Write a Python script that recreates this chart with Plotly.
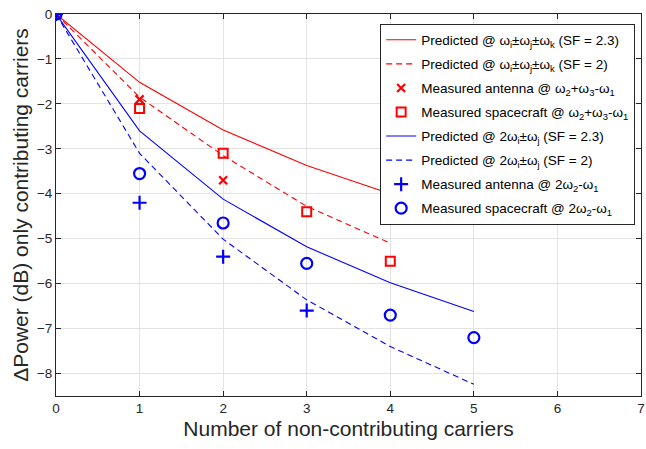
import plotly.graph_objects as go

# Data
x_pred_rk = [0, 1, 2, 3, 4]
pred_ijk_sf23 = [0, -1.52, -2.58, -3.37, -4.0]
pred_ijk_sf2 = [0, -1.85, -3.15, -4.28, -5.1]

x_pred_b = [0, 1, 2, 3, 4, 5]
pred_2ij_sf23 = [0, -2.6, -4.12, -5.18, -5.98, -6.62]
pred_2ij_sf2 = [0, -3.1, -5.01, -6.36, -7.4, -8.24]

x_meas_ant_r = [0, 1, 2]
meas_ant_r = [0, -1.9, -3.7]
x_meas_sc_r = [0, 1, 2, 3, 4]
meas_sc_r = [0, -2.1, -3.1, -4.4, -5.5]
x_meas_ant_b = [0, 1, 2, 3]
meas_ant_b = [0, -4.2, -5.4, -6.6]
x_meas_sc_b = [0, 1, 2, 3, 4, 5]
meas_sc_b = [0, -3.55, -4.65, -5.55, -6.7, -7.2]

x_ticks = [0, 1, 2, 3, 4, 5, 6, 7]
y_ticks = [0, -1, -2, -3, -4, -5, -6, -7, -8]

RED = "#ff0000"
BLUE = "#0000ff"
W = "ω"

fig = go.Figure()
fig.add_trace(go.Scatter(x=x_pred_rk, y=pred_ijk_sf23, mode="lines", legendgroup="g1",
    line=dict(color=RED, width=1.1),
    name=f"Predicted @ {W}<sub>i</sub>±{W}<sub>j</sub>±{W}<sub>k</sub> (SF = 2.3)"))
fig.add_trace(go.Scatter(x=x_pred_rk, y=pred_ijk_sf2, mode="lines", legendgroup="g2",
    line=dict(color=RED, width=1.1, dash="6px,4px"),
    name=f"Predicted @ {W}<sub>i</sub>±{W}<sub>j</sub>±{W}<sub>k</sub> (SF = 2)"))
fig.add_trace(go.Scatter(x=x_meas_ant_r, y=meas_ant_r, mode="markers", legendgroup="g3",
    marker=dict(symbol="x-thin", size=8, line=dict(color=RED, width=2.2), color=RED),
    name=f"Measured antenna @ {W}<sub>2</sub>+{W}<sub>3</sub>-{W}<sub>1</sub>"))
fig.add_trace(go.Scatter(x=x_meas_sc_r, y=meas_sc_r, mode="markers", legendgroup="g4",
    marker=dict(symbol="square-open", size=9, line=dict(color=RED, width=2), color=RED),
    name=f"Measured spacecraft @ {W}<sub>2</sub>+{W}<sub>3</sub>-{W}<sub>1</sub>"))
fig.add_trace(go.Scatter(x=x_pred_b, y=pred_2ij_sf23, mode="lines", legendgroup="g5",
    line=dict(color=BLUE, width=1.1),
    name=f"Predicted @ 2{W}<sub>i</sub>±{W}<sub>j</sub> (SF = 2.3)"))
fig.add_trace(go.Scatter(x=x_pred_b, y=pred_2ij_sf2, mode="lines", legendgroup="g6",
    line=dict(color=BLUE, width=1.1, dash="6px,4px"),
    name=f"Predicted @ 2{W}<sub>i</sub>±{W}<sub>j</sub> (SF = 2)"))
fig.add_trace(go.Scatter(x=x_meas_ant_b, y=meas_ant_b, mode="markers", legendgroup="g7",
    marker=dict(symbol="cross-thin", size=10, line=dict(color=BLUE, width=2.2), color=BLUE),
    name=f"Measured antenna @ 2{W}<sub>2</sub>-{W}<sub>1</sub>"))
fig.add_trace(go.Scatter(x=x_meas_sc_b, y=meas_sc_b, mode="markers", legendgroup="g8",
    marker=dict(symbol="circle-open", size=11, line=dict(color=BLUE, width=2.2), color=BLUE),
    name=f"Measured spacecraft @ 2{W}<sub>2</sub>-{W}<sub>1</sub>"))

axis_common = dict(
    showline=True, linecolor="#262626", linewidth=1, mirror="ticks",
    ticks="inside", ticklen=5, tickcolor="#262626",
    showgrid=True, gridcolor="#e3e3e3", gridwidth=1,
    zeroline=False, tickfont=dict(size=13.5, color="#262626"),
    automargin=False, ticklabeloverflow="allow",
)

fig.update_layout(
    width=646, height=449,
    margin=dict(l=56, r=5, t=14, b=53),
    paper_bgcolor="white", plot_bgcolor="white",
    font=dict(family="Liberation Sans, Arial, sans-serif", color="#262626"),
    xaxis=dict(range=[0, 7], tickvals=x_ticks, **axis_common,
               title=dict(text="Number of non-contributing carriers", font=dict(size=21), standoff=6)),
    yaxis=dict(range=[-8.5, 0], tickvals=y_ticks, **axis_common,
               title=dict(text="ΔPower (dB) only contributing carriers", font=dict(size=21), standoff=2)),
    legend=dict(x=0.99, y=0.975, xanchor="right", yanchor="top",
                bgcolor="white", bordercolor="#262626", borderwidth=1,
                font=dict(size=13.5, color="#000000"), tracegroupgap=3.5,
                itemwidth=30),
    showlegend=True,
)

# Remove the default page margin so the 646x449 figure fills the window exactly.
fig.write_html("out.html", config={"displayModeBar": False},
               post_script="document.body.style.margin='0';")
